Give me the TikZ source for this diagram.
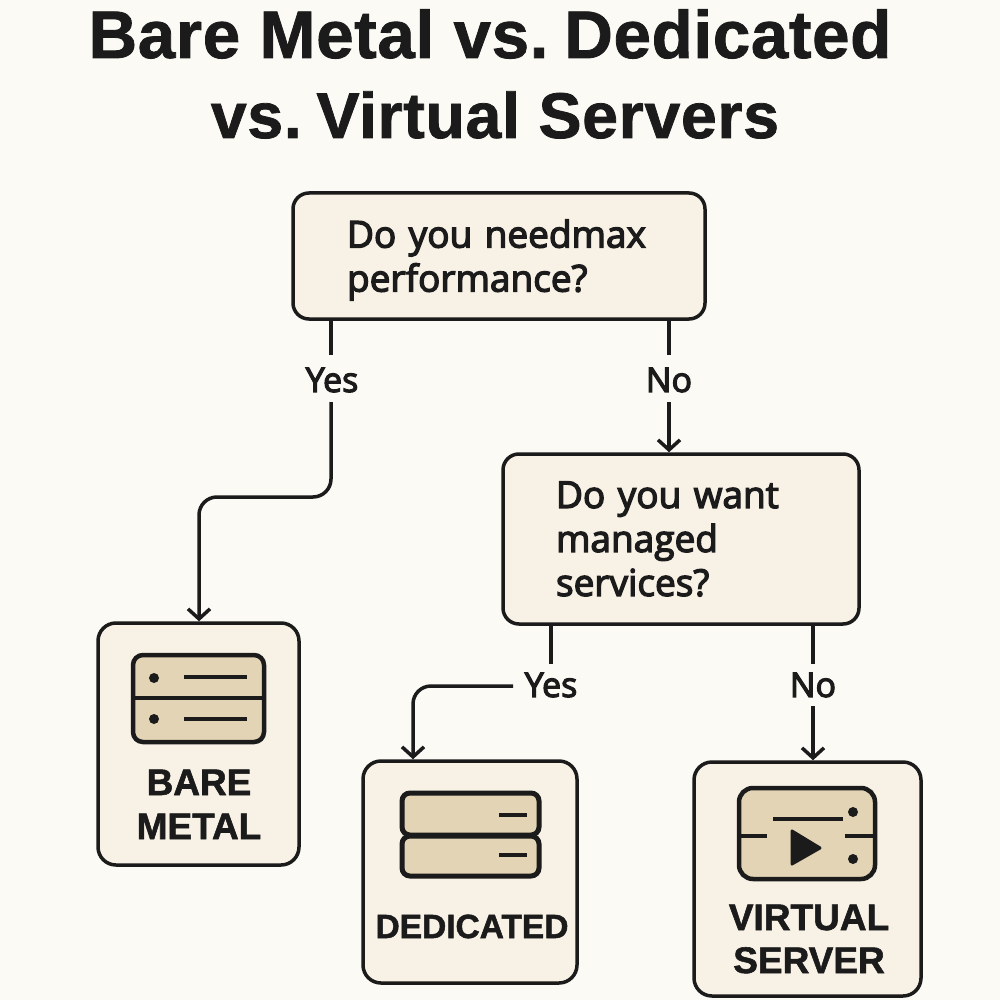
\documentclass[tikz,border=0pt]{standalone}
\usepackage{fontspec}
\usetikzlibrary{arrows.meta}
\setmainfont{Liberation Sans}
\newfontfamily\medfont[FakeBold=3.5]{Open Sans}
\newfontfamily\boldfont[FakeBold=1.2,LetterSpace=1]{Liberation Sans Bold}
\newfontfamily\labelfont[FakeBold=1.5]{Liberation Sans Bold}
\definecolor{paper}{HTML}{FBFAF5}
\definecolor{boxfill}{HTML}{F8F1E6}
\definecolor{iconfill}{HTML}{E3D4B5}
\definecolor{ink}{HTML}{1B1B1B}
\tikzset{
  x=1pt,y=-1pt,
  titletext/.style={text=ink,inner sep=0pt,anchor=base,font=\boldfont\fontsize{67.3}{70}\selectfont},
  question/.style={draw=ink,fill=boxfill,line width=3.5pt,rounded corners=16pt,align=left,text=ink,inner ysep=0pt,font=\medfont\fontsize{37}{44}\selectfont},
  result/.style={draw=ink,fill=boxfill,line width=3.5pt,rounded corners=18pt,inner sep=0pt},
  resulttext/.style={text=ink,inner sep=0pt,anchor=base,font=\labelfont\fontsize{37}{44}\selectfont},
  answer/.style={text=ink,inner sep=0pt,font=\medfont\fontsize{34}{36}\selectfont},
  link/.style={draw=ink,line width=3.5pt},
  arrowlink/.style={link,-{Straight Barb[length=10pt,width=22pt,line width=3.5pt]}},
  icon/.style={draw=ink,fill=iconfill,line width=4.5pt,rounded corners=10pt},
  iconline/.style={draw=ink,line width=4.5pt},
  icondot/.style={fill=ink},
}
\begin{document}
\begin{tikzpicture}
\useasboundingbox (0,0) rectangle (1000,1000);
\fill[paper] (0,0) rectangle (1000,1000);
\node[titletext] (t1) at (490,58) {Bare Metal vs.\kern-10pt{} Dedicated};
\node[titletext,font=\boldfont\fontsize{64.5}{70}\selectfont] (t2) at (495,138) {vs.\kern-10pt{} Virtual Servers};

\node[question,minimum height=126pt,text width=304pt,inner xsep=54pt] (q1) at (499,256) {\rule{0pt}{36pt}Do you needmax\\performance?};
\node[question,minimum height=170pt,text width=250pt,inner xsep=53pt] (q2) at (681,539) {Do you want\\managed\\services?};

\node[result,minimum width=201pt,minimum height=242pt] (bare) at (198.5,744) {};
\node[result,minimum width=214pt,minimum height=222pt] (ded) at (470,872) {};
\node[result,minimum width=227pt,minimum height=234pt] (virt) at (807.5,879) {};

\node[resulttext] (bare1) at (199,795) {BARE};
\node[resulttext] (bare2) at (199,839) {METAL};
\node[resulttext,font=\labelfont\fontsize{33.5}{40}\selectfont] (ded1) at (472,938) {DEDICATED};
\node[resulttext] (virt1) at (809,930) {VIRTUAL};
\node[resulttext] (virt2) at (809,973) {SERVER};

\node[answer] (y1) at (332,380) {Yes};
\node[answer] (n1) at (669,380) {No};
\node[answer] (y2) at (551,685) {Yes};
\node[answer] (n2) at (813,685) {No};

\coordinate (y1top) at (331,319);
\coordinate (y1up) at (331,355);
\coordinate (y1down) at (331,402);
\coordinate (y1bend) at (331,497);
\coordinate (barebend) at (199,497);
\coordinate (n1top) at (669,319);
\coordinate (n1up) at (669,355);
\coordinate (n1down) at (669,402);
\coordinate (y2top) at (551,624);
\coordinate (y2up) at (551,664);
\coordinate (y2left) at (513,686);
\coordinate (dedbend) at (413,686);
\coordinate (n2top) at (813,624);
\coordinate (n2up) at (813,664);
\coordinate (n2down) at (813,706);

\draw[link] (y1top) -- (y1up);
\draw[arrowlink,rounded corners=18pt] (y1down) -- (y1bend) -- (barebend) -- (barebend |- bare.north);
\draw[link] (n1top) -- (n1up);
\draw[arrowlink] (n1down) -- (n1down |- q2.north);
\draw[link] (y2top) -- (y2up);
\draw[arrowlink,rounded corners=18pt] (y2left) -- (dedbend) -- (dedbend |- ded.north);
\draw[link] (n2top) -- (n2up);
\draw[arrowlink] (n2down) -- (n2down |- virt.north);

% bare metal icon
\draw[icon] (133,655) rectangle (264,742);
\draw[iconline] (133,698) -- (264,698);
\fill[icondot] (154,678) circle (5);
\fill[icondot] (154,719) circle (5);
\draw[iconline] (184,677) -- (247,677);
\draw[iconline] (184,719) -- (247,719);

% dedicated icon
\draw[icon,rounded corners=8pt,line width=5pt] (402,793) rectangle (539,835);
\draw[icon,rounded corners=8pt,line width=5pt] (402,836) rectangle (539,876);
\draw[iconline] (499,815) -- (527,815);
\draw[iconline] (499,855) -- (527,855);

% virtual server icon
\draw[icon,rounded corners=14pt] (739,788) rectangle (875,879);
\draw[iconline] (773,819) -- (843,819);
\draw[iconline] (739,836) -- (767,836);
\draw[iconline] (845,836) -- (875,836);
\fill[icondot] (853,812) circle (5);
\fill[icondot] (853,859) circle (5);
\filldraw[draw=ink,fill=ink,line width=3pt,line join=round] (792,831) -- (792,864) -- (820,848) -- cycle;
\end{tikzpicture}
\end{document}
